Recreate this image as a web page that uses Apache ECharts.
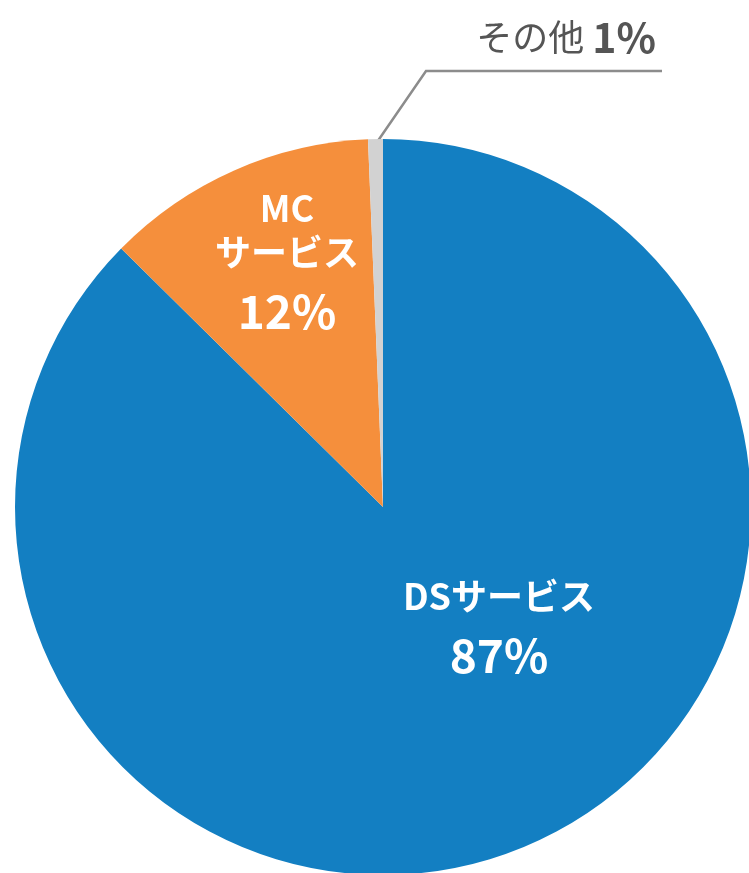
<!DOCTYPE html>
<html>
<head>
<meta charset="utf-8">
<script src="https://cdn.jsdelivr.net/npm/echarts@6/dist/echarts.min.js"></script>
<style>
html,body{margin:0;padding:0;background:#fff;}
#main{width:749px;height:873px;}
</style>
</head>
<body>
<div id="main"></div>
<script>
// 売上構成（扇の角度は図から読み取り、ラベルは表記どおり）
var names=["DSサービス","MCサービス","その他"];
var values=[87.4,11.95,0.65];
var pctLabels=["87","12","1"];
var colors=["#137fc2","#f58f3c","#d2d2d2"];

var font="'Noto Sans CJK JP','Noto Sans',sans-serif";

var myChart=echarts.init(document.getElementById('main'));
var data=[];
for(var i=0;i<names.length;i++){
	data.push({name:names[i],value:values[i],itemStyle:{color:colors[i]}});
}
// 「その他」だけ外側ラベル＋引き出し線
data[2].label={
	show:true,
	position:'outside',
	formatter:'{n|その他 }{v|'+pctLabels[2]+'%}',
	rich:{
		n:{fontFamily:font,fontSize:36,color:'#555',fontWeight:'normal'},
		v:{fontFamily:font,fontSize:41,color:'#555',fontWeight:'bold'}
	}
};
data[2].labelLine={show:true,lineStyle:{color:'#8c8c8c',width:2.5}};

var option={
	animation:false,
	series:[{
		type:'pie',
		center:[383,507],
		radius:368,
		startAngle:90,
		clockwise:true,
		silent:true,
		itemStyle:{borderWidth:0},
		label:{
			show:true,
			position:'inside',
			color:'#fff',
			formatter:function(p){
				if(p.dataIndex==0){
					return '{t|DSサービス}\n{v|'+pctLabels[0]+'%}';
				}
				return '{t|MC}\n{t|サービス}\n{v|'+pctLabels[1]+'%}';
			},
			rich:{
				t:{fontFamily:font,fontSize:36,color:'#fff',fontWeight:'bold',lineHeight:44},
				v:{fontFamily:font,fontSize:46,color:'#fff',fontWeight:'bold',lineHeight:76}
			}
		},
		labelLine:{show:false},
		labelLayout:function(params){
			if(params.dataIndex==0){
				return {x:499,y:634,align:'center',verticalAlign:'middle'};
			}
			if(params.dataIndex==1){
				return {x:287,y:268,align:'center',verticalAlign:'middle'};
			}
			return {x:656,y:37,align:'right',verticalAlign:'middle',
				labelLinePoints:[[373,148],[426,71],[662,71]]};
		},
		data:data
	}]
};
myChart.setOption(option);
</script>
</body>
</html>
